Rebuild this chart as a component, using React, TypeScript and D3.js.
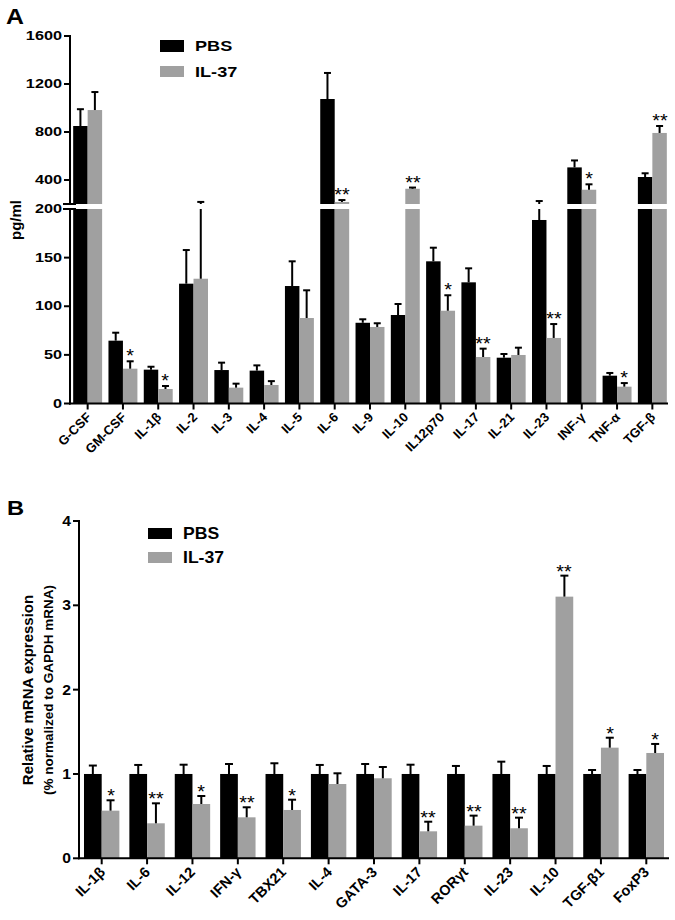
import React from "react";
import * as d3 from "d3";

// ---------- Panel A data (pg/ml) ----------
const catsA = ["G-CSF", "GM-CSF", "IL-1β", "IL-2", "IL-3", "IL-4", "IL-5", "IL-6", "IL-9", "IL-10", "IL12p70", "IL-17", "IL-21", "IL-23", "INF-γ", "TNF-α", "TGF-β"];
const pbsA = [850, 64.6, 34.8, 123.2, 34.4, 33.8, 120.8, 1075, 83, 91, 146.2, 124.6, 47.1, 188.7, 505, 28.6, 425];
const pbsErrA = [140, 8.2, 3, 34.6, 7.6, 5.4, 25.4, 217, 3.6, 11.3, 14, 14.4, 3.8, 36, 58, 2.8, 31];
const il37A = [983, 35.8, 14.9, 128.3, 16.3, 19, 87.9, 217, 78.7, 327, 95.4, 47.8, 49.9, 67.4, 319, 17.3, 792];
const il37ErrA = [150, 7.6, 3.1, 89, 4.1, 4, 28.5, 16, 3.8, 10, 15.9, 8.6, 7.5, 14.3, 45, 3.7, 58];
const starsA = ["", "*", "*", "", "", "", "", "**", "", "**", "*", "**", "", "**", "*", "*", "**"];
const ticksLowA = [0, 50, 100, 150, 200];
const ticksHighA = [400, 800, 1200, 1600];

// ---------- Panel B data (relative mRNA) ----------
const catsB = ["IL-1β", "IL-6", "IL-12", "IFN-γ", "TBX21", "IL-4", "GATA-3", "IL-17", "RORγt", "IL-23", "IL-10", "TGF-β1", "FoxP3"];
const pbsB = [1, 1, 1, 1, 1, 1, 1, 1, 1, 1, 1, 1, 1];
const pbsErrB = [0.1, 0.107, 0.11, 0.118, 0.127, 0.107, 0.118, 0.11, 0.095, 0.146, 0.095, 0.047, 0.047];
const il37B = [0.565, 0.415, 0.644, 0.486, 0.573, 0.881, 0.949, 0.32, 0.387, 0.356, 3.103, 1.312, 1.249];
const il37ErrB = [0.123, 0.237, 0.095, 0.119, 0.122, 0.127, 0.134, 0.114, 0.119, 0.126, 0.249, 0.118, 0.107];
const starsB = ["*", "**", "*", "**", "*", "", "", "**", "**", "**", "**", "*", "*"];
const ticksB = [0, 1, 2, 3, 4];

const groups = ["PBS", "IL-37"];
const GRAY = "#a0a0a0";
const FONT = "'Liberation Sans', Arial, Helvetica, sans-serif";

const xA = d3.scaleBand<string>().domain(catsA).range([70, 670]).paddingInner(0.18).paddingOuter(0.09);
const yLowA = d3.scaleLinear().domain([0, 200]).range([403.5, 209]);
const yHighA = d3.scaleLinear().domain([200, 1600]).range([204, 36]);
const xB = d3.scaleBand<string>().domain(catsB).range([79, 669]).paddingInner(0.22).paddingOuter(0.11);
const yB = d3.scaleLinear().domain([0, 4]).range([858.3, 521]);

const r = (v: number) => Math.round(v);

function T({ x, y, sx = 1.15, size, anchor = "start", children, weight = "bold", base = "auto" }: any) {
  return (
    <g transform={`translate(${r(x)},${r(y)}) scale(${sx},1)`}>
      <text fontFamily={FONT} fontWeight={weight} fontSize={size} textAnchor={anchor} dominantBaseline={base}>
        {children}
      </text>
    </g>
  );
}

function Rot({ x, y, angle, size, anchor = "middle", text }: any) {
  return (
    <text transform={`translate(${r(x)},${r(y)}) rotate(${angle})`} fontFamily={FONT} fontWeight="bold" fontSize={size} textAnchor={anchor}>
      {text}
    </text>
  );
}

function PanelA() {
  const x1 = d3.scaleBand<string>().domain(groups).range([0, xA.bandwidth()]);
  const axisY = yLowA(0);
  const capW = 7;
  const marks: any[] = [];
  catsA.forEach((c, i) => {
    const series = [
      { g: "PBS", v: pbsA[i], e: pbsErrA[i], fill: "#000" },
      { g: "IL-37", v: il37A[i], e: il37ErrA[i], fill: GRAY },
    ];
    series.forEach((s, j) => {
      const bx = (xA(c) as number) + (x1(s.g) as number);
      const bw = x1.bandwidth();
      const cx = bx + bw / 2;
      marks.push(<rect key={`b${i}${j}l`} x={bx} y={yLowA(Math.min(s.v, 200))} width={bw} height={axisY - yLowA(Math.min(s.v, 200))} fill={s.fill} />);
      if (s.v > 200) {
        marks.push(<rect key={`b${i}${j}h`} x={bx} y={yHighA(s.v)} width={bw} height={yHighA(200) - yHighA(s.v)} fill={s.fill} />);
      }
      const top = s.v + s.e;
      if (s.v < 200) {
        marks.push(<line key={`e${i}${j}l`} x1={cx} x2={cx} y1={yLowA(s.v)} y2={yLowA(Math.min(top, 200))} stroke="#000" strokeWidth={2} />);
      }
      if (top > 200) {
        marks.push(<line key={`e${i}${j}h`} x1={cx} x2={cx} y1={yHighA(Math.max(s.v, 200))} y2={yHighA(top)} stroke="#000" strokeWidth={2} />);
      }
      const capY = top > 200 ? yHighA(top) : yLowA(top);
      marks.push(<line key={`c${i}${j}`} x1={cx - capW / 2} x2={cx + capW / 2} y1={capY} y2={capY} stroke="#000" strokeWidth={2} />);
      if (j === 1 && starsA[i]) {
        marks.push(<T key={`s${i}`} x={cx} y={capY + 1} size={18} anchor="middle" sx={1.1} weight="normal">{starsA[i]}</T>);
      }
    });
  });

  return (
    <g>
      {marks}
      <line x1={70} x2={70} y1={35} y2={yHighA(200)} stroke="#000" strokeWidth={2} />
      <line x1={70} x2={70} y1={yLowA(200)} y2={axisY + 1} stroke="#000" strokeWidth={2} />
      <line x1={63} x2={76} y1={yHighA(200)} y2={yHighA(200)} stroke="#000" strokeWidth={2} />
      <line x1={63} x2={76} y1={yLowA(200)} y2={yLowA(200)} stroke="#000" strokeWidth={2} />
      {ticksHighA.map((t) => (
        <g key={`th${t}`}>
          <line x1={64} x2={70} y1={yHighA(t)} y2={yHighA(t)} stroke="#000" strokeWidth={2} />
          <T x={62} y={yHighA(t)} size={13} anchor="end" sx={1.25} base="central">{t}</T>
        </g>
      ))}
      {ticksLowA.map((t) => (
        <g key={`tl${t}`}>
          {t !== 200 && <line x1={64} x2={70} y1={yLowA(t)} y2={yLowA(t)} stroke="#000" strokeWidth={2} />}
          <T x={62} y={yLowA(t)} size={13} anchor="end" sx={1.25} base="central">{t}</T>
        </g>
      ))}
      <line x1={69} x2={668} y1={axisY} y2={axisY} stroke="#000" strokeWidth={2} />
      {catsA.map((c) => {
        const cx = (xA(c) as number) + xA.bandwidth() / 2;
        return <line key={`xt${c}`} x1={cx} x2={cx} y1={axisY} y2={axisY + 6} stroke="#000" strokeWidth={2} />;
      })}
      <Rot x={21} y={220} angle={-90} size={15} text="pg/ml" />
      <rect x={160} y={40} width={24} height={12} fill="#000" />
      <rect x={160} y={66} width={24} height={11} fill={GRAY} />
      <T x={195} y={46} size={15.5} sx={1.17} base="central">PBS</T>
      <T x={195} y={72} size={15.5} sx={1.17} base="central">IL-37</T>
      <T x={6} y={24} size={22} sx={1.13}>A</T>
    </g>
  );
}

function PanelB() {
  const x1 = d3.scaleBand<string>().domain(groups).range([0, xB.bandwidth()]);
  const axisY = yB(0);
  const capW = 8;
  const marks: any[] = [];
  catsB.forEach((c, i) => {
    const series = [
      { g: "PBS", v: pbsB[i], e: pbsErrB[i], fill: "#000" },
      { g: "IL-37", v: il37B[i], e: il37ErrB[i], fill: GRAY },
    ];
    series.forEach((s, j) => {
      const bx = (xB(c) as number) + (x1(s.g) as number);
      const bw = x1.bandwidth();
      const cx = bx + bw / 2;
      marks.push(<rect key={`b${i}${j}`} x={bx} y={yB(s.v)} width={bw} height={axisY - yB(s.v)} fill={s.fill} />);
      const capY = yB(s.v + s.e);
      marks.push(<line key={`e${i}${j}`} x1={cx} x2={cx} y1={yB(s.v)} y2={capY} stroke="#000" strokeWidth={2} />);
      marks.push(<line key={`c${i}${j}`} x1={cx - capW / 2} x2={cx + capW / 2} y1={capY} y2={capY} stroke="#000" strokeWidth={2} />);
      if (j === 1 && starsB[i]) {
        marks.push(<T key={`s${i}`} x={cx} y={capY + 2} size={18} anchor="middle" sx={1.1} weight="normal">{starsB[i]}</T>);
      }
    });
  });
  return (
    <g>
      {marks}
      <line x1={79} x2={79} y1={520} y2={axisY + 1} stroke="#000" strokeWidth={2} />
      {ticksB.map((t) => (
        <g key={`tb${t}`}>
          <line x1={73} x2={79} y1={yB(t)} y2={yB(t)} stroke="#000" strokeWidth={2} />
          <T x={71} y={yB(t)} size={14} anchor="end" sx={1.12} base="central">{t}</T>
        </g>
      ))}
      <line x1={78} x2={669} y1={axisY} y2={axisY} stroke="#000" strokeWidth={2} />
      {catsB.map((c) => {
        const cx = (xB(c) as number) + xB.bandwidth() / 2;
        return <line key={`xt${c}`} x1={cx} x2={cx} y1={axisY} y2={axisY + 6} stroke="#000" strokeWidth={2} />;
      })}
      <Rot x={33} y={690} angle={-90} size={15} text="Relative mRNA expression" />
      <Rot x={53} y={690} angle={-90} size={13.5} text="(% normalized to GAPDH mRNA)" />
      <rect x={148} y={528} width={24} height={11} fill="#000" />
      <rect x={148} y={552} width={24} height={11} fill={GRAY} />
      <T x={183} y={534} size={16} sx={1.1} base="central">PBS</T>
      <T x={183} y={558} size={16} sx={1.1} base="central">IL-37</T>
      <T x={7} y={515} size={21} sx={1.13}>B</T>
    </g>
  );
}

// category labels drawn in a separate overlay svg
function Labels() {
  const axisA = yLowA(0);
  const axisB = yB(0);
  return (
    <svg width={675} height={920} style={{ position: "absolute", left: 0, top: 0 }}>
      {catsA.map((c) => {
        const cx = (xA(c) as number) + xA.bandwidth() / 2;
        return <Rot key={`xa${c}`} x={cx + 4} y={axisA + 14} angle={-45} size={13} anchor="end" text={c} />;
      })}
      {catsB.map((c) => {
        const cx = (xB(c) as number) + xB.bandwidth() / 2;
        return <Rot key={`xb${c}`} x={cx + 4} y={axisB + 15} angle={-45} size={14.5} anchor="end" text={c} />;
      })}
    </svg>
  );
}

export default function App() {
  return (
    <div style={{ position: "absolute", left: 0, top: 0, width: 675, height: 920, background: "#fff" }}>
      <svg width={675} height={920} style={{ position: "absolute", left: 0, top: 0 }}>
        <PanelA />
        <PanelB />
      </svg>
      <Labels />
    </div>
  );
}
